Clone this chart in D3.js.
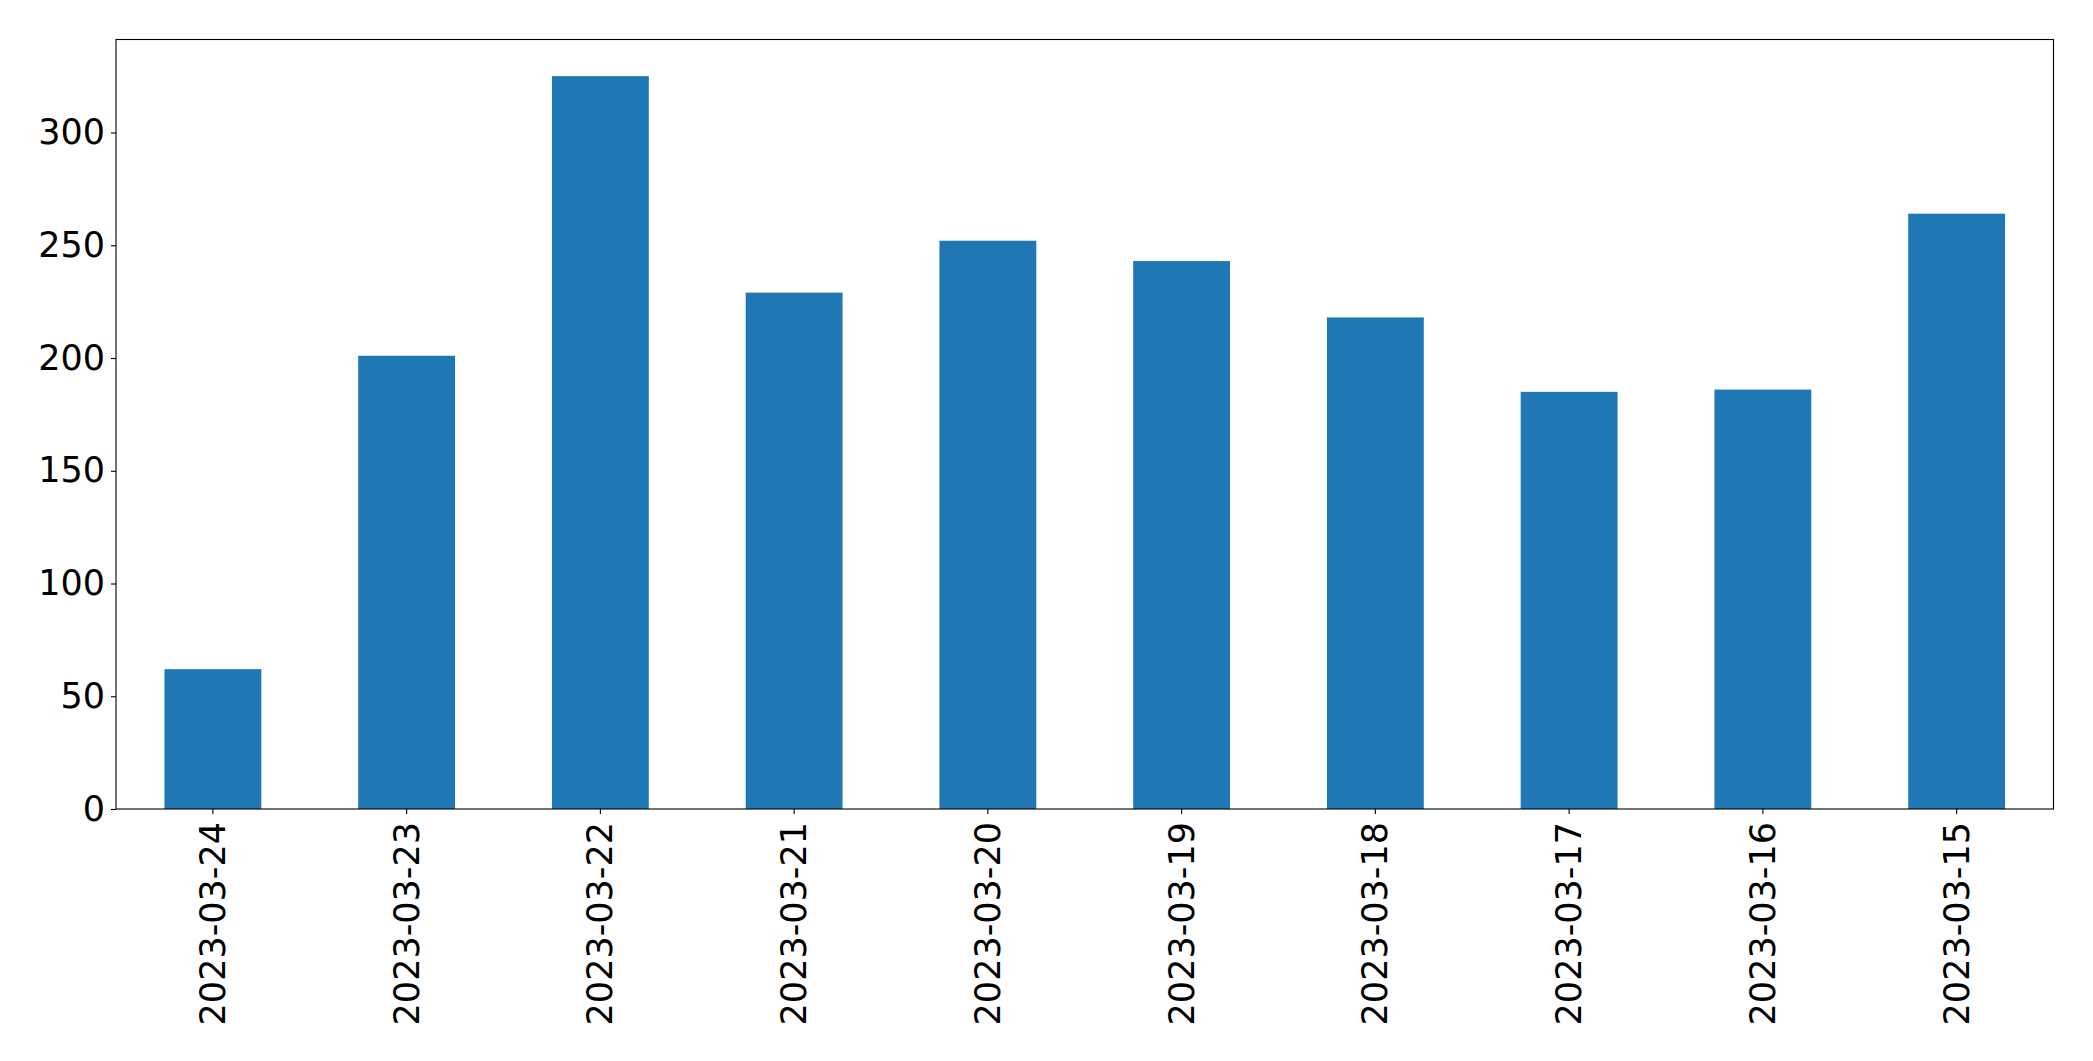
<!DOCTYPE html>
<html>
<head>
<meta charset="utf-8">
<script src="https://cdn.jsdelivr.net/npm/d3@7"></script>
<style>
  html, body { margin: 0; padding: 0; background: #fff; }
  svg { display: block; }
  text { font-family: "DejaVu Sans", sans-serif; fill: #000; }
</style>
</head>
<body>
<svg id="chart" width="2093" height="1061"></svg>
<script>
const categories = ["2023-03-24","2023-03-23","2023-03-22","2023-03-21","2023-03-20","2023-03-19","2023-03-18","2023-03-17","2023-03-16","2023-03-15"];
const values = [62, 201, 325, 229, 252, 243, 218, 185, 186, 264];
const yTicks = [0, 50, 100, 150, 200, 250, 300];

const svg = d3.select("#chart");
const plotLeft = 116, plotRight = 2053.5, plotTop = 39.5, plotBottom = 809;
const fontSize = 35;

const x = d3.scaleBand().domain(categories).range([plotLeft, plotRight]).paddingInner(0.5).paddingOuter(0.25);
const yMax = d3.max(values) * 1.05;
const y = d3.scaleLinear().domain([0, yMax]).range([plotBottom, plotTop]);

svg.append("g").selectAll("rect").data(values).join("rect")
  .attr("x", (d, i) => x(categories[i]))
  .attr("width", x.bandwidth())
  .attr("y", d => y(d))
  .attr("height", d => y(0) - y(d))
  .attr("fill", "#1f77b4");

// frame
svg.append("rect")
  .attr("x", plotLeft).attr("y", plotTop)
  .attr("width", plotRight - plotLeft).attr("height", plotBottom - plotTop)
  .attr("fill", "none").attr("stroke", "#000").attr("stroke-width", 1.1);

const yAxis = d3.axisLeft(y).tickValues(yTicks).tickSize(5).tickPadding(6).tickFormat(d3.format("d"));
const gy = svg.append("g").attr("transform", `translate(${plotLeft},0)`).call(yAxis);
gy.select(".domain").remove();
gy.selectAll(".tick line").attr("stroke", "#000").attr("stroke-width", 1.1);
gy.selectAll(".tick text").style("font-size", fontSize + "px").style("font-family", "DejaVu Sans").attr("fill", "#000");

const xAxis = d3.axisBottom(x).tickSize(5).tickPadding(0);
const gx = svg.append("g").attr("transform", `translate(0,${plotBottom})`).call(xAxis);
gx.select(".domain").remove();
gx.selectAll(".tick line").attr("stroke", "#000").attr("stroke-width", 1.1);
gx.selectAll(".tick text")
  .style("font-size", fontSize + "px").style("font-family", "DejaVu Sans").attr("fill", "#000")
  .attr("text-anchor", "end")
  .attr("dy", null)
  .attr("y", 0)
  .attr("dominant-baseline", "central")
  .attr("transform", "translate(0,13) rotate(-90)");
</script>
</body>
</html>
